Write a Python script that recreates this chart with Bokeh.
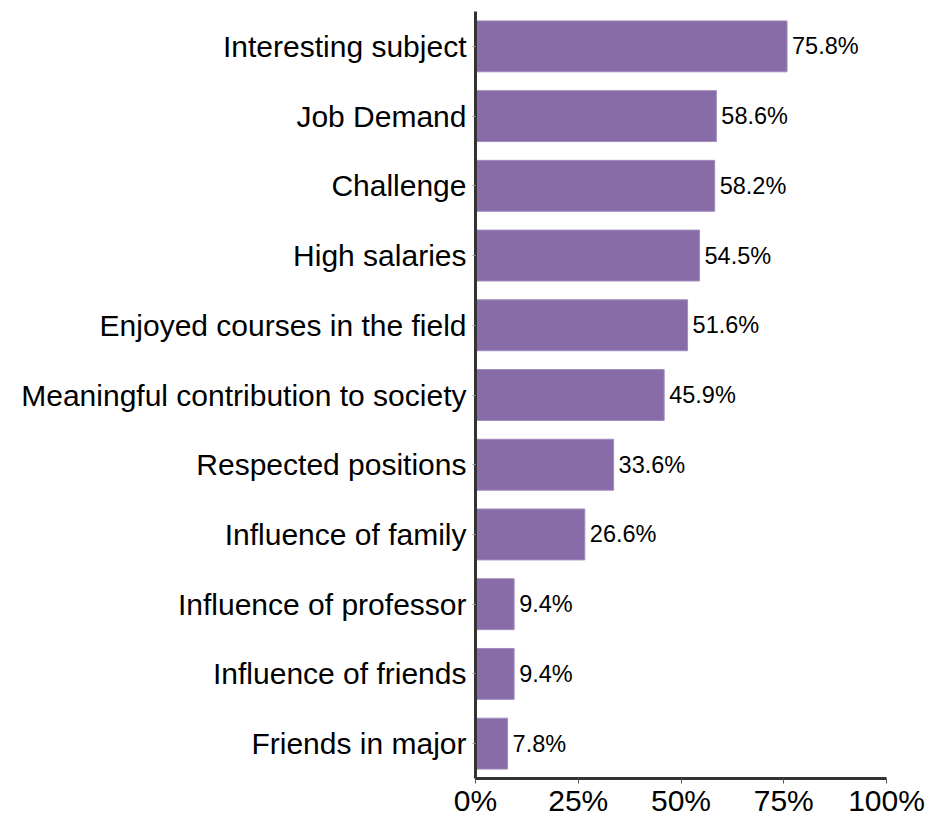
from bokeh.plotting import figure
from bokeh.models import ColumnDataSource, FactorRange, Range1d, FixedTicker
from bokeh.core.properties import value
from bokeh.embed import file_html
from bokeh.resources import INLINE

categories = ["Interesting subject", "Job Demand", "Challenge", "High salaries",
              "Enjoyed courses in the field", "Meaningful contribution to society",
              "Respected positions", "Influence of family", "Influence of professor",
              "Influence of friends", "Friends in major"]
percentages = [75.8, 58.6, 58.2, 54.5, 51.6, 45.9, 33.6, 26.6, 9.4, 9.4, 7.8]
x_ticks = [0, 25, 50, 75, 100]
x_tick_labels = ["0%", "25%", "50%", "75%", "100%"]

FONT = "Liberation Sans"
labels = ["{:.1f}%".format(v) for v in percentages]
src = ColumnDataSource(dict(cat=categories, val=percentages, lab=labels))

p = figure(width=928, height=819, output_backend="svg", toolbar_location=None,
           y_range=FactorRange(factors=categories[::-1], range_padding=0),
           x_range=Range1d(0, 100),
           min_border_left=475, min_border_right=42, min_border_top=11, min_border_bottom=40)
p.outline_line_color = None
p.xgrid.visible = False
p.ygrid.visible = False

p.hbar(y="cat", right="val", left=0, height=0.73, source=src,
       fill_color="#876ca8", line_color="#a08cbd", line_width=1)
p.text(x="val", y="cat", text="lab", source=src, x_offset=5,
       text_baseline="middle", text_align="left", text_color="#000000",
       text_font=value(FONT), text_font_size="23.5px")

for ax in (p.xaxis[0], p.yaxis[0]):
    ax.axis_line_color = "#333333"
    ax.axis_line_width = 3
    ax.major_label_text_font = FONT
    ax.major_label_text_color = "#000000"
    ax.minor_tick_line_color = None

p.xaxis.ticker = FixedTicker(ticks=x_ticks)
p.xaxis.major_label_overrides = {t: l for t, l in zip(x_ticks, x_tick_labels)}
p.xaxis.major_label_text_font_size = "30px"
p.xaxis.major_tick_out = 5
p.xaxis.major_tick_in = 0
p.xaxis.major_tick_line_color = "#555555"
p.xaxis.major_label_standoff = 0

p.yaxis.major_label_text_font_size = "30px"
p.yaxis.major_tick_out = 3
p.yaxis.major_tick_in = 0
p.yaxis.major_tick_line_color = "#999999"
p.yaxis.major_label_standoff = 6

open("out.html", "w").write(file_html(p, INLINE))
